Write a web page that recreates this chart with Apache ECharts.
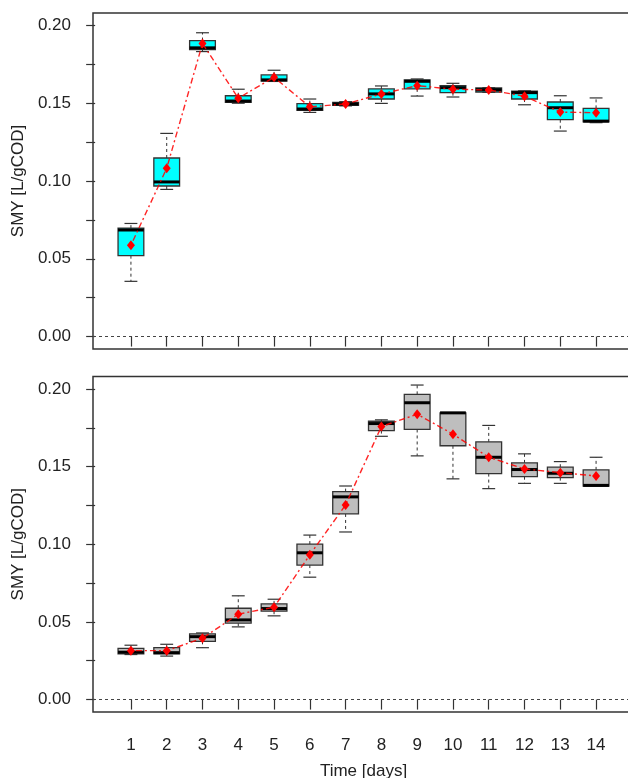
<!DOCTYPE html>
<html>
<head>
<meta charset="utf-8">
<script src="https://cdn.jsdelivr.net/npm/echarts@6/dist/echarts.min.js"></script>
<style>
html,body{margin:0;padding:0;background:#fff}
#chart{width:628px;height:778px}
</style>
</head>
<body>
<div id="chart"></div>
<script>
// days on the x axis
var days = [1, 2, 3, 4, 5, 6, 7, 8, 9, 10, 11, 12, 13, 14];

// top panel (cyan boxes)
var topLow    = [0.0355, 0.0946, 0.1832, 0.1500, 0.1640, 0.1441, 0.1483, 0.1499, 0.1546, 0.1540, 0.1570, 0.1490, 0.1321, 0.1375];
var topQ1     = [0.0520, 0.0968, 0.1845, 0.1506, 0.1643, 0.1454, 0.1486, 0.1527, 0.1592, 0.1568, 0.1572, 0.1527, 0.1394, 0.1380];
var topMedian = [0.0685, 0.0994, 0.1856, 0.1514, 0.1650, 0.1463, 0.1495, 0.1560, 0.1641, 0.1600, 0.1587, 0.1568, 0.1471, 0.1385];
var topQ3     = [0.0697, 0.1148, 0.1903, 0.1548, 0.1682, 0.1497, 0.1505, 0.1592, 0.1650, 0.1613, 0.1598, 0.1577, 0.1508, 0.1467];
var topHigh   = [0.0727, 0.1306, 0.1953, 0.1590, 0.1712, 0.1527, 0.1510, 0.1611, 0.1656, 0.1628, 0.1600, 0.1580, 0.1548, 0.1534];
var topMean   = [0.0587, 0.1082, 0.1884, 0.1532, 0.1667, 0.1477, 0.1495, 0.1560, 0.1613, 0.1590, 0.1585, 0.1545, 0.1443, 0.1439];

// bottom panel (grey boxes)
var botLow    = [0.0290, 0.0280, 0.0334, 0.0468, 0.0539, 0.0788, 0.1079, 0.1695, 0.1569, 0.1421, 0.1358, 0.1392, 0.1392, 0.1375];
var botQ1     = [0.0294, 0.0294, 0.0375, 0.0492, 0.0569, 0.0866, 0.1195, 0.1732, 0.1739, 0.1634, 0.1455, 0.1435, 0.1429, 0.1375];
var botMedian = [0.0305, 0.0302, 0.0405, 0.0513, 0.0586, 0.0945, 0.1305, 0.1777, 0.1911, 0.1846, 0.1560, 0.1481, 0.1457, 0.1379];
var botQ3     = [0.0330, 0.0334, 0.0423, 0.0588, 0.0616, 0.1001, 0.1339, 0.1792, 0.1965, 0.1846, 0.1659, 0.1524, 0.1496, 0.1479];
var botHigh   = [0.0350, 0.0356, 0.0429, 0.0668, 0.0646, 0.1059, 0.1375, 0.1801, 0.2025, 0.1846, 0.1765, 0.1582, 0.1532, 0.1560];
var botMean   = [0.0315, 0.0315, 0.0395, 0.0550, 0.0595, 0.0932, 0.1253, 0.1758, 0.1837, 0.1709, 0.1560, 0.1485, 0.1461, 0.1440];

var yLabels = [0, 0.05, 0.10, 0.15, 0.20];
var yTicks = [0, 0.025, 0.05, 0.075, 0.10, 0.125, 0.15, 0.175, 0.20];

var FONT = 'Liberation Sans';
var TXT = '#222';
var chart = echarts.init(document.getElementById('chart'));

function boxRows(lo, q1, med, q3, hi) {
    return days.map(function (d, i) { return [d, lo[i], q1[i], med[i], q3[i], hi[i]]; });
}
function meanRows(m) {
    return days.map(function (d, i) { return [d, m[i]]; });
}

function boxRenderer(fill) {
    return function (params, api) {
        var x = api.value(0);
        var unit = api.size([1, 0])[0];
        var half = unit * 0.36, cap = unit * 0.18;
        var pLow = api.coord([x, api.value(1)]);
        var pQ1 = api.coord([x, api.value(2)]);
        var pMed = api.coord([x, api.value(3)]);
        var pQ3 = api.coord([x, api.value(4)]);
        var pHigh = api.coord([x, api.value(5)]);
        var cx = pMed[0];
        var dash = {stroke: '#333', lineWidth: 1, lineDash: [3, 3]};
        var solid = {stroke: '#333', lineWidth: 1.2};
        return {
            type: 'group',
            children: [
                {type: 'line', shape: {x1: cx, y1: pQ3[1], x2: cx, y2: pHigh[1]}, style: dash},
                {type: 'line', shape: {x1: cx, y1: pQ1[1], x2: cx, y2: pLow[1]}, style: dash},
                {type: 'line', shape: {x1: cx - cap, y1: pHigh[1], x2: cx + cap, y2: pHigh[1]}, style: solid},
                {type: 'line', shape: {x1: cx - cap, y1: pLow[1], x2: cx + cap, y2: pLow[1]}, style: solid},
                {type: 'rect', shape: {x: cx - half, y: pQ3[1], width: 2 * half, height: pQ1[1] - pQ3[1]},
                    style: {fill: fill, stroke: '#333', lineWidth: 1.3}},
                {type: 'line', shape: {x1: cx - half, y1: pMed[1], x2: cx + half, y2: pMed[1]},
                    style: {stroke: '#000', lineWidth: 3}}
            ]
        };
    };
}

function xAxisFor(idx, showLabels) {
    return {
        type: 'value', gridIndex: idx, min: -0.06, max: 15.06,
        splitLine: {show: false},
        axisLine: {show: false},
        axisTick: {show: true, length: 10, customValues: days, lineStyle: {color: '#333', width: 1.2}},
        axisLabel: {show: showLabels, customValues: days, margin: 25, color: TXT, fontSize: 17, fontFamily: FONT},
        name: showLabels ? 'Time [days]' : '',
        nameLocation: 'middle', nameGap: 51,
        nameTextStyle: {color: TXT, fontSize: 17, fontFamily: FONT}
    };
}
function yAxisFor(idx) {
    return {
        type: 'value', gridIndex: idx, min: -0.008, max: 0.208,
        splitLine: {show: false},
        axisLine: {show: false},
        axisTick: {show: true, length: 9, customValues: yTicks, lineStyle: {color: '#333', width: 1.2}},
        axisLabel: {customValues: yLabels, margin: 22, color: TXT, fontSize: 17, fontFamily: FONT,
            formatter: function (v) { return v.toFixed(2); }},
        name: 'SMY [L/gCOD]', nameLocation: 'middle', nameRotate: 90, nameGap: 64,
        nameTextStyle: {color: TXT, fontSize: 17, fontFamily: FONT}
    };
}

function panelSeries(idx, fill, rows, means) {
    return [
        {
            type: 'custom', xAxisIndex: idx, yAxisIndex: idx, z: 2,
            renderItem: boxRenderer(fill),
            encode: {x: 0, y: [1, 2, 3, 4, 5]},
            data: rows
        },
        {
            type: 'line', xAxisIndex: idx, yAxisIndex: idx, z: 3,
            data: means,
            symbol: 'diamond', symbolSize: [8, 10],
            itemStyle: {color: '#ff0000'},
            lineStyle: {color: 'rgba(255,0,0,0.85)', width: 1.4, type: [2, 3, 6, 3]},
            markLine: {
                silent: true, symbol: 'none', label: {show: false},
                lineStyle: {color: '#444', width: 1, type: [3, 3]},
                data: [{yAxis: 0}]
            }
        }
    ];
}

var gridCommon = {show: true, borderColor: '#333', borderWidth: 1.5, backgroundColor: 'transparent', outerBoundsMode: 'none'};

chart.setOption({
    animation: false,
    backgroundColor: '#fff',
    grid: [
        Object.assign({left: 93, top: 13, width: 541, height: 336}, gridCommon),
        Object.assign({left: 93, top: 376.5, width: 541, height: 335.5}, gridCommon)
    ],
    xAxis: [xAxisFor(0, false), xAxisFor(1, true)],
    yAxis: [yAxisFor(0), yAxisFor(1)],
    series: panelSeries(0, '#00ffff', boxRows(topLow, topQ1, topMedian, topQ3, topHigh), meanRows(topMean))
        .concat(panelSeries(1, '#bebebe', boxRows(botLow, botQ1, botMedian, botQ3, botHigh), meanRows(botMean)))
});
</script>
</body>
</html>
